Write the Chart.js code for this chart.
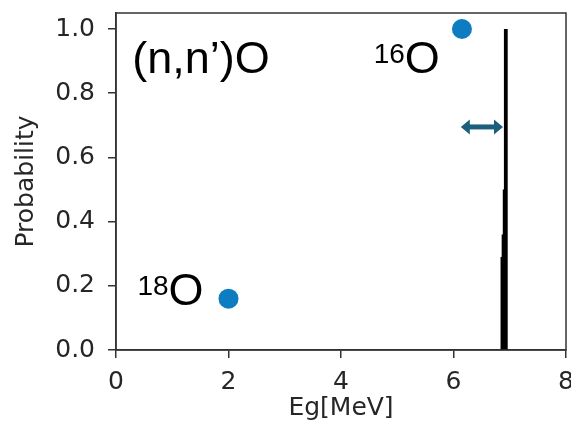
<!DOCTYPE html>
<html><head><meta charset="utf-8">
<script src="https://cdn.jsdelivr.net/npm/chart.js@4"></script>
<style>html,body{margin:0;padding:0;background:#fff;overflow:hidden}#w{width:571px;height:435px;position:relative}canvas{display:block}</style>
</head><body><div id="w"><canvas id="c"></canvas></div>
<script>
// ---- data ----
const xTicks = [0, 2, 4, 6, 8];
const yTicks = [0, 0.2, 0.4, 0.6, 0.8, 1.0];
const isotopeEnergy = [6.15, 2.0];      // MeV
const isotopeProb = [1.0, 0.16];
const lineEnergy = [6.93, 6.91, 6.89, 6.87];
const lineProb = [1.0, 0.5, 0.36, 0.29];
const arrowX = [6.13, 6.88];
const arrowY = 0.695;
const annoMass = ['', '16', '18'];
const annoSym = ['(n,n’)O', 'O', 'O'];
const annoX = [0.29, 4.58, 0.38];
const annoY = [0.864, 0.864, 0.14];

const TXT = '#262626';
const tickFont = {family: 'DejaVu Sans', size: 25};

const stickSets = lineEnergy.map((e, i) => ({
  type: 'line',
  data: [{x: e, y: 0}, {x: e, y: lineProb[i]}],
  borderColor: '#000',
  borderWidth: 3.8,
  pointRadius: 0,
  showLine: true,
  borderCapStyle: 'butt'
}));

const overlay = {
  id: 'overlay',
  afterDatasetsDraw(chart) {
    const {ctx, chartArea: a, scales: {x, y}} = chart;
    ctx.save();
    // arrow
    const x0 = x.getPixelForValue(arrowX[0]), x1 = x.getPixelForValue(arrowX[1]);
    const yy = y.getPixelForValue(arrowY);
    const hl = 9, hh = 7.5;
    ctx.fillStyle = '#1b5f7c';
    ctx.strokeStyle = '#1b5f7c';
    ctx.lineWidth = 5;
    ctx.beginPath(); ctx.moveTo(x0 + hl - 1, yy); ctx.lineTo(x1 - hl + 1, yy); ctx.stroke();
    ctx.beginPath(); ctx.moveTo(x0, yy); ctx.lineTo(x0 + hl, yy - hh); ctx.lineTo(x0 + hl, yy + hh); ctx.closePath(); ctx.fill();
    ctx.beginPath(); ctx.moveTo(x1, yy); ctx.lineTo(x1 - hl, yy - hh); ctx.lineTo(x1 - hl, yy + hh); ctx.closePath(); ctx.fill();
    // annotations
    ctx.fillStyle = '#000';
    ctx.textBaseline = 'alphabetic';
    ctx.textAlign = 'left';
    annoSym.forEach((s, i) => {
      let px = x.getPixelForValue(annoX[i]);
      const py = y.getPixelForValue(annoY[i]);
      if (annoMass[i]) {
        ctx.font = '28px "Liberation Sans"';
        ctx.fillText(annoMass[i], px, py - 10);
        px += ctx.measureText(annoMass[i]).width;
      }
      ctx.font = '45px "Liberation Sans"';
      ctx.fillText(s, px, py);
    });
    // frame
    ctx.strokeStyle = '#333';
    ctx.lineWidth = 1.5;
    ctx.strokeRect(a.left, a.top, a.right - a.left, a.bottom - a.top);
    ctx.restore();
  }
};

new Chart(document.getElementById('c'), {
  type: 'scatter',
  data: {
    datasets: [
      ...stickSets,
      {
        type: 'scatter',
        data: isotopeEnergy.map((e, i) => ({x: e, y: isotopeProb[i]})),
        backgroundColor: '#0e7cc1',
        borderColor: '#0e7cc1',
        pointRadius: 10,
        borderWidth: 0
      }
    ]
  },
  options: {
    responsive: true,
    maintainAspectRatio: false,
    animation: false,
    events: [],
    layout: {autoPadding: false, padding: {top: 13, right: 5, left: 0, bottom: 0}},
    plugins: {legend: {display: false}, tooltip: {enabled: false}},
    scales: {
      x: {
        type: 'linear', min: 0, max: 8,
        afterFit(s) { s.height = 85; s.paddingLeft = 0; s.paddingRight = 0; },
        afterBuildTicks(s) { s.ticks = xTicks.map(v => ({value: v})); },
        grid: {drawOnChartArea: false, drawTicks: true, tickLength: 8, color: '#333', lineWidth: 1.5},
        border: {display: true, color: '#333', width: 1.5},
        ticks: {font: tickFont, color: TXT, padding: 9, maxRotation: 0, callback: v => String(v)},
        title: {display: true, text: 'Eg[MeV]', font: tickFont, color: TXT, padding: {top: 0, bottom: 12}}
      },
      y: {
        type: 'linear', min: 0, max: 1.05,
        afterFit(s) { s.width = 116; s.paddingTop = 0; s.paddingBottom = 0; },
        afterBuildTicks(s) { s.ticks = yTicks.map(v => ({value: v})); },
        grid: {drawOnChartArea: false, drawTicks: true, tickLength: 8, color: '#333', lineWidth: 1.5},
        border: {display: true, color: '#333', width: 1.5},
        ticks: {font: tickFont, color: TXT, padding: 13, callback: v => Number(v).toFixed(1)},
        title: {display: true, text: 'Probability', font: tickFont, color: TXT, padding: {top: 11, bottom: 0}}
      }
    }
  },
  plugins: [overlay]
});
</script>
</body></html>
